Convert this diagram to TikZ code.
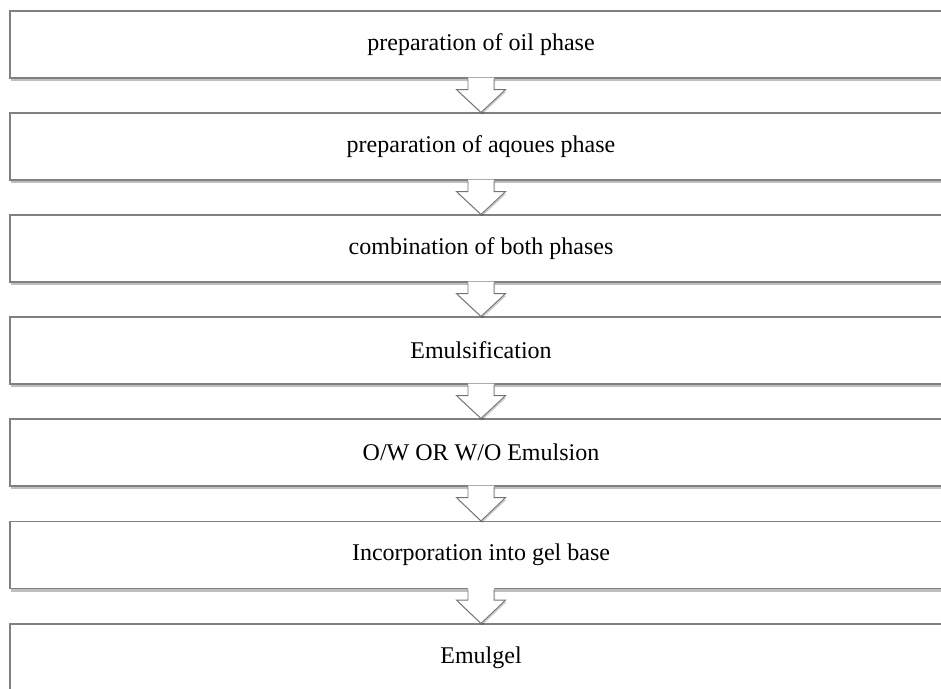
\documentclass[tikz,border=0pt]{standalone}
\usepackage{fontspec}
\setmainfont{Liberation Serif}
\usepackage{tikz}
\usetikzlibrary{calc}
\usetikzlibrary{shadows}

\tikzset{
	stage/.style={draw=black!50, line width=1.2pt, fill=white, minimum width=942pt, minimum height=67pt, inner sep=0pt,
		font=\fontsize{24}{28}\selectfont,
		drop shadow={shadow xshift=1pt, shadow yshift=-3pt, opacity=0.25, fill=black}},
	blockarrow/.style={fill=white, drop shadow={shadow xshift=1pt, shadow yshift=-2pt, opacity=0.2, fill=black}},
	arrowline/.style={draw=black!55, line width=0.9pt, line join=miter}
}

\begin{document}
\begin{tikzpicture}[x=1pt, y=-1pt]
		\useasboundingbox (0,0) rectangle (941,688);
		
		\node[stage] (s1) at (481,44.5) {preparation of oil phase};
		\node[stage] (s2) at (481,146.5) {preparation of aqoues phase};
		\node[stage] (s3) at (481,248.5) {combination of both phases};
		\node[stage] (s4) at (481,350.5) {Emulsification};
		\node[stage] (s5) at (481,452.5) {O/W OR W/O Emulsion};
		\node[stage] (s6) at (481,555) {Incorporation into gel base};
		\node[stage] (s7) at (481,657.5) {Emulgel};
		
		\foreach \a/\b in {s1/s2, s2/s3, s3/s4, s4/s5, s5/s6, s6/s7}{
			\fill[blockarrow] ($(\a.south)+(-13,-1)$) -- ++(0,12) -- ++(-11.5,0) -- (\b.north)
				-- ($(\a.south)+(24.5,11)$) -- ++(-11.5,0) -- ++(0,-12) -- cycle;
			\draw[arrowline] ($(\a.south)+(-13,0.6)$) -- ++(0,10.4) -- ++(-11.5,0) -- (\b.north)
				-- ($(\a.south)+(24.5,11)$) -- ++(-11.5,0) -- ++(0,-10.4);
		}
	\end{tikzpicture}
\end{document}
